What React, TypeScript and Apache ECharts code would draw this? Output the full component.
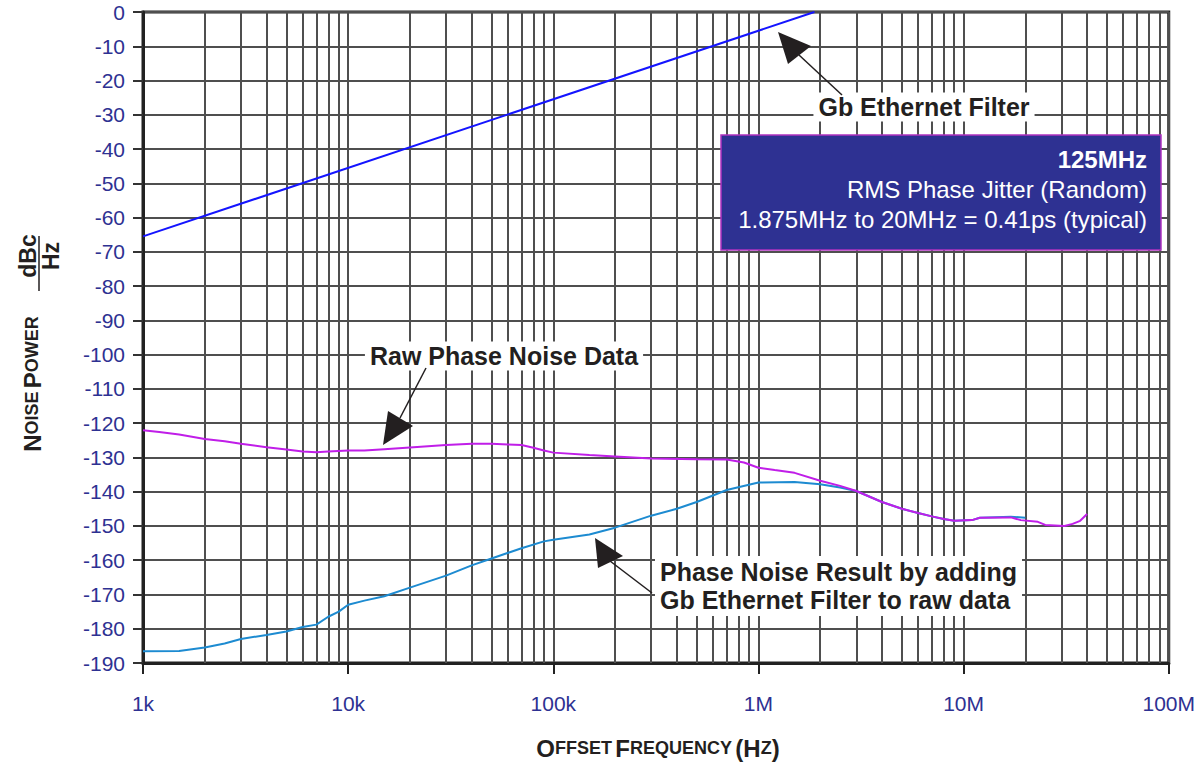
import React, { useEffect, useRef } from "react";
import * as echarts from "echarts";

// ---- data ----
const xTickValues = [1e3, 1e4, 1e5, 1e6, 1e7, 1e8];
const xTickLabels = ["1k", "10k", "100k", "1M", "10M", "100M"];

const filterFreq = [1000, 1875000];
const filterDb = [-65.5, 0];

const rawFreq = [
  1000, 1200, 1500, 2000, 2500, 3000, 4000, 5000, 6000, 7000, 8000, 10000, 12000, 15000, 20000,
  30000, 40000, 50000, 60000, 70000, 80000, 90000, 100000, 150000, 200000, 300000, 500000,
  700000, 850000, 1000000, 1200000, 1500000, 2000000, 2500000, 3000000, 4000000, 5000000,
  6000000, 7000000, 8000000, 9000000, 11000000, 12000000, 17000000, 19000000, 23000000,
  25000000, 31000000, 34000000, 37000000, 40000000,
];
const rawDb = [
  -122.1, -122.6, -123.3, -124.6, -125.3, -126, -127, -127.7, -128.3, -128.5, -128.3, -128,
  -128, -127.6, -127.1, -126.4, -126, -126, -126.2, -126.4, -127.2, -128, -128.6, -129.3,
  -129.7, -130.3, -130.5, -130.6, -131.5, -133, -133.7, -134.5, -136.8, -138.3, -139.8, -143,
  -145, -146.2, -147.2, -148, -148.5, -148.3, -147.6, -147.5, -148.3, -148.8, -149.7, -150,
  -149.4, -148.5, -146.5,
];

const resultFreq = [
  1000, 1500, 2000, 2500, 3000, 4000, 5000, 6000, 7000, 8000, 9000, 10000, 12000, 15000, 20000,
  30000, 40000, 50000, 70000, 90000, 100000, 150000, 200000, 300000, 400000, 500000, 700000,
  1000000, 1500000, 2000000, 2500000, 3000000, 4000000, 5000000, 6000000, 7000000, 8000000,
  9000000, 11000000, 12000000, 17000000, 20000000,
];
const resultDb = [
  -186.6, -186.5, -185.5, -184.3, -183, -181.8, -180.8, -179.5, -178.8, -176.5, -175, -173,
  -171.8, -170.5, -168, -164.5, -161.5, -159.5, -156.5, -154.5, -154, -152.5, -150.5, -147,
  -145, -143, -139.5, -137.3, -137.2, -137.8, -138.8, -139.8, -143, -145, -146.2, -147.2, -148,
  -148.5, -148.3, -147.6, -147.3, -147.6,
];

const minorMultipliers = [2, 3, 4, 5, 6, 7, 8, 9];
const minorDecades = [1e3, 1e4, 1e5, 1e6, 1e7];

const FONT = "'Liberation Sans', Arial, Helvetica, sans-serif";
const NAVY = "#2e3192";
const GRID = "#4f4f4f";

function zip(a: number[], b: number[]) {
  return a.map((v, i) => [v, b[i]]);
}

export default function App() {
  const ref = useRef<HTMLDivElement>(null);

  useEffect(() => {
    if (!ref.current) return;
    const chart = echarts.init(ref.current, undefined, { renderer: "svg" });

    const minorLines: any[] = [];
    minorDecades.forEach((d) =>
      minorMultipliers.forEach((m) => minorLines.push({ xAxis: d * m }))
    );

    const boldText = (text: string, x: number, y: number, align = "center", lh?: number) => ({
      type: "text",
      x,
      y,
      z: 100,
      style: {
        text,
        fill: "#231f20",
        font: `bold 25px ${FONT}`,
        textAlign: align,
        textVerticalAlign: "middle",
        backgroundColor: "#ffffff",
        padding: [2, 5, 2, 5],
        lineHeight: lh,
      },
    });

    const arrow = (tip: number[], c1: number[], c2: number[], from: number[], to: number[]) => ({
      type: "group",
      z: 100,
      children: [
        {
          type: "line",
          z: 100,
          shape: { x1: from[0], y1: from[1], x2: to[0], y2: to[1] },
          style: { stroke: "#231f20", lineWidth: 1.5 },
        },
        {
          type: "polygon",
          z: 100,
          shape: { points: [tip, c1, c2] },
          style: { fill: "#231f20" },
        },
      ],
    });

    const option: any = {
      animation: false,
      grid: {
        left: 143,
        right: 26,
        top: 12,
        bottom: 104,
        show: true,
        borderColor: "#222",
        borderWidth: 3,
        backgroundColor: "#ffffff",
      },
      xAxis: {
        type: "log",
        logBase: 10,
        min: 1000,
        max: 1e8,
        splitNumber: 5,
        axisLine: { show: true, onZero: false, lineStyle: { color: "#222", width: 3 } },
        axisTick: { show: true, inside: false, length: 11, lineStyle: { color: "#222", width: 2 } },
        axisLabel: {
          color: NAVY,
          fontFamily: FONT,
          fontSize: 21,
          margin: 30,
          formatter: (v: number) => {
            const i = xTickValues.findIndex((t) => Math.abs(Math.log10(t) - Math.log10(v)) < 1e-6);
            return i >= 0 ? xTickLabels[i] : "";
          },
        },
        splitLine: { show: true, lineStyle: { color: GRID, width: 2 } },
      },
      yAxis: {
        type: "value",
        min: -190,
        max: 0,
        interval: 10,
        axisLine: { show: true, lineStyle: { color: "#222", width: 3 } },
        axisTick: { show: true, length: 10, lineStyle: { color: "#333", width: 2 } },
        axisLabel: { color: NAVY, fontFamily: FONT, fontSize: 21, margin: 18 },
        splitLine: { show: true, lineStyle: { color: GRID, width: 2 } },
      },
      series: [
        {
          name: "grid-minor",
          type: "line",
          data: [],
          silent: true,
          markLine: {
            silent: true,
            symbol: ["none", "none"],
            label: { show: false },
            lineStyle: { color: GRID, width: 2, type: "solid" },
            emphasis: { disabled: true },
            data: minorLines,
          },
          z: 1,
        },
        {
          name: "Gb Ethernet Filter",
          type: "line",
          data: zip(filterFreq, filterDb),
          showSymbol: false,
          lineStyle: { color: "#1414ff", width: 2 },
          z: 5,
        },
        {
          name: "Phase Noise Result",
          type: "line",
          data: zip(resultFreq, resultDb),
          showSymbol: false,
          lineStyle: { color: "#1d8bd1", width: 2 },
          z: 5,
        },
        {
          name: "Raw Phase Noise Data",
          type: "line",
          data: zip(rawFreq, rawDb),
          showSymbol: false,
          lineStyle: { color: "#c01ee8", width: 2 },
          z: 6,
        },
      ],
      graphic: [
        // y axis title
        {
          type: "text",
          x: 32,
          y: 384,
          rotation: Math.PI / 2,
          style: {
            text: "{a|N}{b|OISE} {a|P}{b|OWER}",
            textAlign: "center",
            textVerticalAlign: "middle",
            fill: "#231f20",
            rich: {
              a: { fontFamily: FONT, fontWeight: "bold", fontSize: 24, fill: "#231f20" },
              b: { fontFamily: FONT, fontWeight: "bold", fontSize: 18, fill: "#231f20" },
            },
          },
        },
        {
          type: "text",
          x: 28,
          y: 256,
          rotation: Math.PI / 2,
          style: {
            text: "dBc",
            textAlign: "center",
            textVerticalAlign: "middle",
            fill: "#231f20",
            font: `bold 23px ${FONT}`,
          },
        },
        {
          type: "line",
          shape: { x1: 39, y1: 236, x2: 39, y2: 291 },
          style: { stroke: "#231f20", lineWidth: 1.5 },
        },
        {
          type: "text",
          x: 51,
          y: 256,
          rotation: Math.PI / 2,
          style: {
            text: "Hz",
            textAlign: "center",
            textVerticalAlign: "middle",
            fill: "#231f20",
            font: `bold 23px ${FONT}`,
          },
        },
        // x axis title
        {
          type: "text",
          x: 658,
          y: 748,
          style: {
            text: "{a|O}{b|FFSET} {a|F}{b|REQUENCY} {a|(H}{b|Z}{a|)}",
            textAlign: "center",
            textVerticalAlign: "middle",
            fill: "#231f20",
            rich: {
              a: { fontFamily: FONT, fontWeight: "bold", fontSize: 24, fill: "#231f20" },
              b: { fontFamily: FONT, fontWeight: "bold", fontSize: 18, fill: "#231f20" },
            },
          },
        },
        // annotations
        boldText("Gb Ethernet Filter", 924, 107),
        arrow([778, 32], [788, 64], [811, 46], [799, 55], [842, 95]),
        boldText("Raw Phase Noise Data", 504, 356),
        arrow([383, 445], [388, 411], [413, 426], [400, 418], [426, 368]),
        boldText("Phase Noise Result by adding\nGb Ethernet Filter to raw data", 655, 586, "left", 28),
        arrow([595, 538], [598, 568], [623, 556], [610, 561], [652, 593]),
        // info box
        {
          type: "rect",
          z: 100,
          shape: { x: 721, y: 135, width: 440, height: 115 },
          style: { fill: "#2e3192", stroke: "#b032c0", lineWidth: 1.5 },
        },
        {
          type: "text",
          z: 101,
          x: 1147,
          y: 159,
          style: {
            text: "125MHz",
            fill: "#ffffff",
            font: `bold 24px ${FONT}`,
            textAlign: "right",
            textVerticalAlign: "middle",
          },
        },
        {
          type: "text",
          z: 101,
          x: 1147,
          y: 189,
          style: {
            text: "RMS Phase Jitter (Random)",
            fill: "#ffffff",
            font: `24px ${FONT}`,
            textAlign: "right",
            textVerticalAlign: "middle",
          },
        },
        {
          type: "text",
          z: 101,
          x: 1147,
          y: 219,
          style: {
            text: "1.875MHz to 20MHz = 0.41ps (typical)",
            fill: "#ffffff",
            font: `24px ${FONT}`,
            textAlign: "right",
            textVerticalAlign: "middle",
          },
        },
      ],
    };

    chart.setOption(option);
    return () => chart.dispose();
  }, []);

  return (
    <div
      ref={ref}
      style={{ position: "absolute", left: 0, top: 0, width: 1198, height: 767, background: "#fff" }}
    />
  );
}
